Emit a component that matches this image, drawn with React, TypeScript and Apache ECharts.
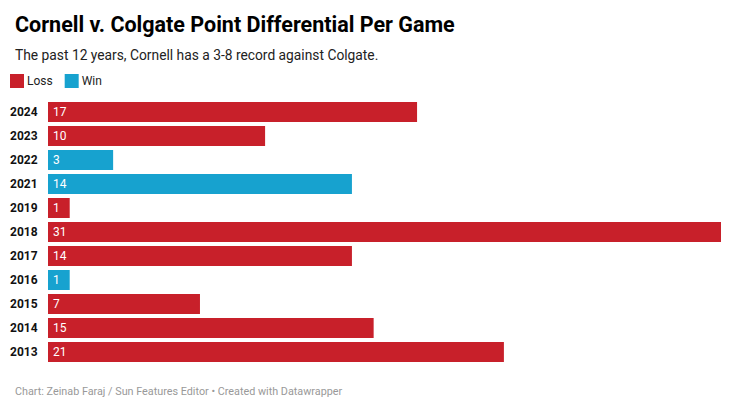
import React, { useEffect, useRef } from "react";
import * as echarts from "echarts";

const years = ["2024", "2023", "2022", "2021", "2019", "2018", "2017", "2016", "2015", "2014", "2013"];
const differentials = [17, 10, 3, 14, 1, 31, 14, 1, 7, 15, 21];
const results = ["Loss", "Loss", "Win", "Win", "Loss", "Loss", "Loss", "Win", "Loss", "Loss", "Loss"];

const RED = "#c8202a";
const BLUE = "#17a2cf";
const FONT = "Roboto";

export default function App() {
  const ref = useRef<HTMLDivElement>(null);
  useEffect(() => {
    if (!ref.current) return;
    const chart = echarts.init(ref.current, null, { renderer: "svg" });
    const mk = (name: string, color: string) => ({
      name,
      type: "bar",
      stack: "all",
      barWidth: 20,
      data: differentials.map((v, i) => (results[i] === name ? v : "-")),
      itemStyle: { color },
      label: {
        show: true,
        position: "insideLeft",
        distance: 5,
        color: "#ffffff",
        fontFamily: FONT,
        fontSize: 12,
      },
    });
    chart.setOption({
      animation: false,
      textStyle: { fontFamily: FONT },
      title: [
        {
          text: "Cornell v. Colgate Point Differential Per Game",
          left: 10,
          top: 8,
          textStyle: { fontFamily: FONT, fontSize: 21.5, fontWeight: "bold", color: "#000" },
        },
        {
          text: "The past 12 years, Cornell has a 3-8 record against Colgate.",
          left: 10,
          top: 43,
          textStyle: { fontFamily: FONT, fontSize: 13.8, fontWeight: "normal", color: "#222" },
        },
        {
          text: "Chart: Zeinab Faraj / Sun Features Editor • Created with Datawrapper",
          left: 10,
          top: 381,
          textStyle: { fontFamily: FONT, fontSize: 10.8, fontWeight: "normal", color: "#999" },
        },
      ],
      legend: {
        left: 10,
        top: 74,
        icon: "rect",
        itemWidth: 14,
        itemHeight: 14,
        itemGap: 12,
        data: ["Loss", "Win"],
        textStyle: { fontFamily: FONT, fontSize: 12, color: "#222", padding: [0, 0, 0, -2] },
        padding: 0,
      },
      grid: { left: 48, right: 11, top: 100, bottom: 41, containLabel: false },
      xAxis: { type: "value", min: 0, max: 31, show: false },
      yAxis: {
        type: "category",
        data: years,
        inverse: true,
        axisLine: { show: false },
        axisTick: { show: false },
        axisLabel: {
          align: "left",
          margin: 38,
          fontFamily: FONT,
          fontSize: 12,
          fontWeight: "bold",
          color: "#111",
        },
      },
      series: [mk("Loss", RED), mk("Win", BLUE)],
    });
    return () => chart.dispose();
  }, []);
  return <div ref={ref} style={{ position: "fixed", left: 0, top: 0, width: 732, height: 405, background: "#fff" }} />;
}
